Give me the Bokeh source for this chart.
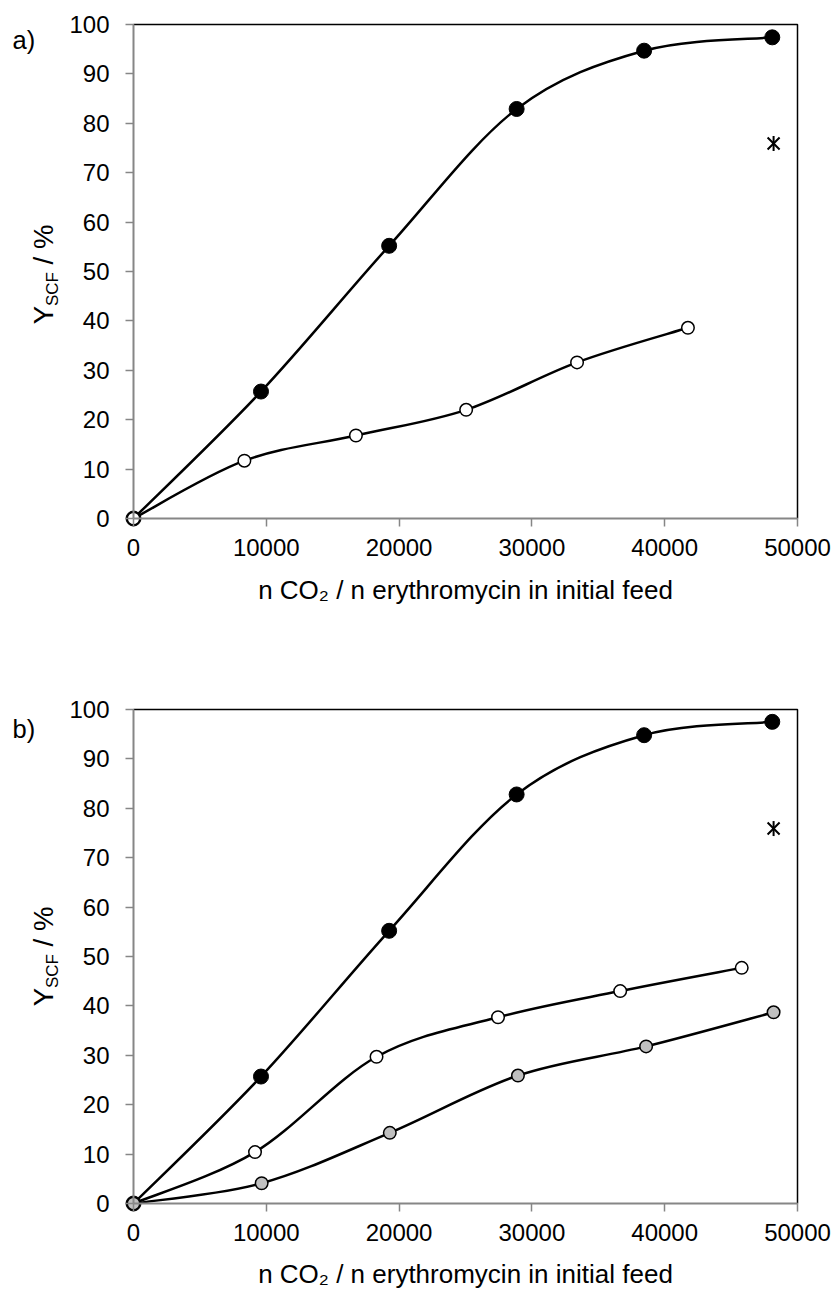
import numpy as np
from math import pi
from bokeh.plotting import figure
from bokeh.layouts import column
from bokeh.models import Range1d, FixedTicker, NumeralTickFormatter, Label, ColumnDataSource
from bokeh.embed import file_html
from bokeh.resources import INLINE

# ---------------- data ----------------
x_ticks = [0, 10000, 20000, 30000, 40000, 50000]
y_ticks = [0, 10, 20, 30, 40, 50, 60, 70, 80, 90, 100]
XMAX = 50000
YMAX = 100

# panel a
a_full_x = [0, 9600, 19250, 28850, 38450, 48100]
a_full_y = [0, 25.7, 55.2, 82.9, 94.7, 97.4]
a_open_x = [0, 8350, 16750, 25050, 33400, 41750]
a_open_y = [0, 11.7, 16.8, 22.0, 31.6, 38.6]
a_star_x = [48200]
a_star_y = [75.9]

# panel b
b_full_x = [0, 9600, 19250, 28850, 38450, 48100]
b_full_y = [0, 25.7, 55.2, 82.8, 94.8, 97.5]
b_open_x = [0, 9150, 18300, 27450, 36650, 45800]
b_open_y = [0, 10.4, 29.7, 37.7, 43.0, 47.7]
b_gray_x = [0, 9650, 19300, 28950, 38600, 48200]
b_gray_y = [0, 4.1, 14.3, 25.9, 31.8, 38.7]
b_star_x = [48200]
b_star_y = [75.9]

# ---------------- layout constants (pixels) ----------------
FONT = "Liberation Sans"
W = 836
PX0, PX1 = 133, 797          # canvas x of data 0 and XMAX
PLOT_H = 494                 # pixels from y=0 to y=YMAX
SX = (PX1 - PX0) / XMAX
SY = PLOT_H / YMAX
BASE_K = 0.31                # baseline correction (fraction of font size)


def smooth(xs, ys, t=1.0 / 6.0):
    P = np.column_stack([xs, ys]).astype(float)
    prev = np.vstack([P[:1], P[:-1]])
    nxt = np.vstack([P[1:], P[-1:]])
    tang = nxt - prev
    c0 = P[:-1] + tang[:-1] * t
    c1 = P[1:] - tang[1:] * t
    return ColumnDataSource(dict(
        x0=P[:-1, 0], y0=P[:-1, 1], x1=P[1:, 0], y1=P[1:, 1],
        cx0=c0[:, 0], cy0=c0[:, 1], cx1=c1[:, 0], cy1=c1[:, 1]))


def make_fig(H, y0_px):
    # the frame covers the whole canvas; axes are placed at data 0
    p = figure(frame_width=W, frame_height=H, min_border=0,
               x_range=Range1d(-PX0 / SX, (W - PX0) / SX),
               y_range=Range1d(-(H - y0_px) / SY, y0_px / SY),
               output_backend="svg", toolbar_location=None,
               background_fill_color="white", border_fill_color="white")
    p.outline_line_color = None
    p.grid.visible = False
    p.xaxis.ticker = FixedTicker(ticks=x_ticks)
    p.yaxis.ticker = FixedTicker(ticks=y_ticks)
    p.xaxis.formatter = NumeralTickFormatter(format="0")
    p.yaxis.formatter = NumeralTickFormatter(format="0")
    p.xaxis.fixed_location = 0
    p.yaxis.fixed_location = 0
    p.xaxis.bounds = (0, XMAX)
    p.yaxis.bounds = (0, YMAX)
    for ax in (p.xaxis, p.yaxis):
        ax.axis_line_color = "#868686"
        ax.axis_line_width = 2
        ax.major_tick_line_color = "#868686"
        ax.major_tick_line_width = 1.5
        ax.major_tick_out = 8
        ax.major_tick_in = 0
        ax.minor_tick_line_color = None
        ax.major_label_text_font = FONT
        ax.major_label_text_font_size = "24px"
        ax.major_label_text_color = "black"
    p.xaxis.major_label_standoff = 12
    p.yaxis.major_label_standoff = 16
    # top & right border of the plot area
    p.line(x=[0, XMAX, XMAX], y=[YMAX, YMAX, 0], line_color="black", line_width=1.5)
    return p


def add_series(p, xs, ys, fill, size, lw):
    p.bezier(x0="x0", y0="y0", x1="x1", y1="y1", cx0="cx0", cy0="cy0",
             cx1="cx1", cy1="cy1", source=smooth(xs, ys),
             line_color="black", line_width=2.5)
    p.scatter(xs, ys, marker="circle", size=size, fill_color=fill,
              line_color="black", line_width=lw)


def add_star(p, xs, ys):
    p.scatter(xs, ys, marker="x", size=17, line_color="black", line_width=2)
    p.scatter(xs, ys, marker="dash", angle=pi / 2, size=15,
              line_color="black", line_width=2)


def add_texts(p, letter, letter_dy, title_dy, ycenter_shift):
    # panel letter
    fl = 25.5
    p.add_layout(Label(x=0, y=YMAX, x_offset=12 - PX0, y_offset=-letter_dy + BASE_K * fl,
                       text=letter, text_align="left", text_baseline="alphabetic",
                       text_font=FONT, text_font_size=f"{fl}px", text_color="black"))
    # x-axis title
    ft = 26
    p.add_layout(Label(x=XMAX / 2, y=0, x_offset=0, y_offset=-title_dy + BASE_K * ft,
                       text="n CO\u2082 / n erythromycin in initial feed",
                       text_align="center", text_baseline="alphabetic",
                       text_font=FONT, text_font_size=f"{ft}px", text_color="black"))
    # y-axis title with subscript, composed of pieces
    f, fs = 27.5, 17.0
    wY = 0.667 * f
    wS = (0.667 + 0.722 + 0.611) * fs
    wsp = 0.278 * f
    wR = (0.278 + 0.278 + 0.889) * f
    L = wY + wS + wsp + wR
    s = -L / 2 - ycenter_shift
    base_x = 52 - PX0
    pieces = [("Y", f, 0, s), ("SCF", fs, 5, s + wY), ("/ %", f, 0, s + wY + wS + wsp)]
    for txt, size, dx, off in pieces:
        p.add_layout(Label(x=0, y=YMAX / 2, x_offset=base_x + dx - BASE_K * size, y_offset=off,
                           text=txt, angle=pi / 2, text_align="left",
                           text_baseline="alphabetic", text_font=FONT,
                           text_font_size=f"{size}px", text_color="black"))


# ---------------- panel a ----------------
H1 = 640
p1 = make_fig(H1, 518)
add_series(p1, a_full_x, a_full_y, "black", 15, 1)
add_series(p1, a_open_x, a_open_y, "white", 12.5, 1.5)
add_star(p1, a_star_x, a_star_y)
add_texts(p1, "a)", 23, 80, 3)

# ---------------- panel b ----------------
H2 = 1289 - H1
p2 = make_fig(H2, 1203 - H1)
add_series(p2, b_full_x, b_full_y, "black", 15, 1)
add_series(p2, b_open_x, b_open_y, "white", 12.5, 1.5)
add_series(p2, b_gray_x, b_gray_y, "#c0c0c0", 12.5, 1.5)
add_star(p2, b_star_x, b_star_y)
add_texts(p2, "b)", 27, 78.5, 0)

layout = column(p1, p2, spacing=0)
open("out.html", "w").write(file_html(layout, INLINE))
